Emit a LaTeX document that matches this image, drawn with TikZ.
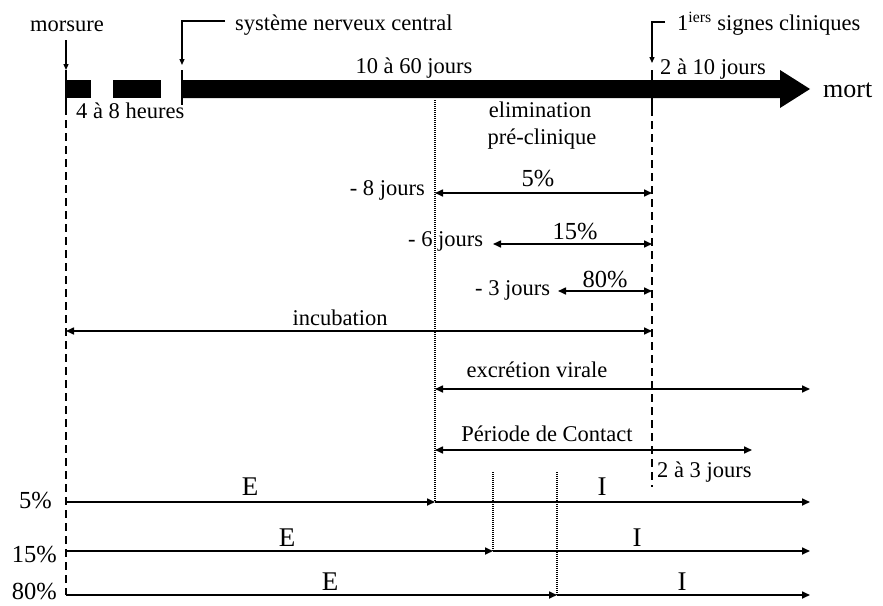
\documentclass[tikz,border=0pt]{standalone}
\usepackage{fontspec}
\setmainfont{Liberation Serif}
\usetikzlibrary{arrows.meta}
\begin{document}
\begin{tikzpicture}[x=1pt,y=-1pt,
  txt/.style={font=\fontsize{22.5}{26}\selectfont, inner sep=0pt, anchor=base},
  pct/.style={font=\fontsize{24.5}{28}\selectfont, inner sep=0pt, anchor=base},
  big/.style={font=\fontsize{27}{30}\selectfont, inner sep=0pt, anchor=base},
  ln/.style={line width=1.6pt},
  tip/.style={ln,-{Triangle[length=8pt,width=7pt]}},
  dtip/.style={ln,{Triangle[length=8pt,width=7pt]}-{Triangle[length=8pt,width=7pt]}},
  downtip/.style={line width=1.3pt,-{Triangle[length=6pt,width=5pt]}},
  tick/.style={line width=2.2pt},
  dashline/.style={line width=1.4pt, dash pattern=on 8pt off 5pt},
  dotline/.style={line width=1.3pt, dash pattern=on 1pt off 1pt},
]
\useasboundingbox (0,0) rectangle (883,605);

% ---- coordinates ----
\coordinate (m0) at (66,40);   \coordinate (m1) at (66,70);
\coordinate (s0) at (225,21);  \coordinate (s1) at (182,21);  \coordinate (s2) at (182,65);
\coordinate (c0) at (665,22);  \coordinate (c1) at (652,22);  \coordinate (c2) at (652,63);
\coordinate (tmA) at (66,70);  \coordinate (tmB) at (66,107);
\coordinate (tsA) at (182,70); \coordinate (tsB) at (182,105);
\coordinate (tcA) at (652,70); \coordinate (tcB) at (652,108);
\coordinate (dm0) at (66,107); \coordinate (dm1) at (66,595);
\coordinate (dc0) at (652,108);\coordinate (dc1) at (652,487);
\coordinate (o10) at (435,100);\coordinate (o11) at (435,502);
\coordinate (o20) at (493,472);\coordinate (o21) at (493,551);
\coordinate (o30) at (557,472);\coordinate (o31) at (557,595);
\coordinate (a5L) at (435,193);  \coordinate (a5R) at (652,193);
\coordinate (a15L) at (493,244); \coordinate (a15R) at (652,244);
\coordinate (a80L) at (558,291); \coordinate (a80R) at (652,291);
\coordinate (incL) at (66,331);  \coordinate (incR) at (652,331);
\coordinate (excL) at (435,389); \coordinate (excR) at (810,389);
\coordinate (perL) at (435,450); \coordinate (perR) at (752,450);
\coordinate (r1a) at (66,502); \coordinate (r1b) at (435,502); \coordinate (r1c) at (810,502);
\coordinate (r2a) at (66,551); \coordinate (r2b) at (493,551); \coordinate (r2c) at (810,551);
\coordinate (r3a) at (66,595); \coordinate (r3b) at (557,595); \coordinate (r3c) at (810,595);

% ---- main bar ----
\fill (66,80) rectangle (91,98);
\fill (113,80) rectangle (161,98);
\fill (182,80) -- (780,80) -- (780,70) -- (810,89) -- (780,108) -- (780,98) -- (182,98) -- cycle;
\draw[tick] (tmA) -- (tmB);
\draw[tick] (tsA) -- (tsB);
\draw[tick] (tcA) -- (tcB);

% ---- pointers ----
\draw[downtip] (m0) -- (m1);
\draw[downtip] (s0) -- (s1) -- (s2);
\draw[downtip] (c0) -- (c1) -- (c2);

% ---- guide lines ----
\draw[dashline] (dm0) -- (dm1);
\draw[dashline] (dc0) -- (dc1);
\draw[dotline] (o10) -- (o11);
\draw[dotline] (o20) -- (o21);
\draw[dotline] (o30) -- (o31);

% ---- intervals ----
\draw[dtip] (a5L) -- (a5R);
\draw[dtip] (a15L) -- (a15R);
\draw[dtip] (a80L) -- (a80R);
\draw[dtip] (incL) -- (incR);
\draw[dtip] (excL) -- (excR);
\draw[dtip] (perL) -- (perR);

% ---- rows ----
\draw[tip] (r1a) -- (r1b); \draw[tip] (r1b) -- (r1c);
\draw[tip] (r2a) -- (r2b); \draw[tip] (r2b) -- (r2c);
\draw[tip] (r3a) -- (r3b); \draw[tip] (r3b) -- (r3c);

% ---- texts ----
\node[txt] (tmors) at (67,31) {morsure};
\node[txt, anchor=base west] (tsnc) at (235,30) {système nerveux central};
\node[txt, anchor=base west] (tsig) at (677,30) {1\textsuperscript{iers} signes cliniques};
\node[txt] (t1060) at (414,73) {10 à 60 jours};
\node[txt, anchor=base west] (t210) at (660,74) {2 à 10 jours};
\node[txt, anchor=base west, font=\fontsize{26}{30}\selectfont] (tmort) at (823,97) {mort};
\node[txt, anchor=base west] (t48) at (76,118) {4 à 8 heures};
\node[txt] (telim) at (540,117) {elimination};
\node[txt] (tprec) at (542,144) {pré-clinique};
\node[pct] (p5) at (538,186) {5\%};
\node[txt, anchor=base east] (j8) at (425,195) {- 8 jours};
\node[pct] (p15) at (575,239) {15\%};
\node[txt, anchor=base west] (j6) at (408,246) {- 6 jours};
\node[pct] (p80) at (605,287) {80\%};
\node[txt, anchor=base west] (j3) at (475,295) {- 3 jours};
\node[txt] (tinc) at (340,325) {incubation};
\node[txt] (texc) at (537,377) {excrétion virale};
\node[txt] (tper) at (547,441) {Période de Contact};
\node[txt, anchor=base west] (t23) at (657,477) {2 à 3 jours};
\node[pct, anchor=base east] (l5) at (52,508) {5\%};
\node[pct, anchor=base east] (l15) at (57,562) {15\%};
\node[pct, anchor=base east] (l80) at (57,599) {80\%};
\node[big] (e1) at (250,495) {E};
\node[big] (e2) at (287,546) {E};
\node[big] (e3) at (330,590) {E};
\node[big] (i1) at (602,495) {I};
\node[big] (i2) at (637,546) {I};
\node[big] (i3) at (682,590) {I};
\end{tikzpicture}
\end{document}
